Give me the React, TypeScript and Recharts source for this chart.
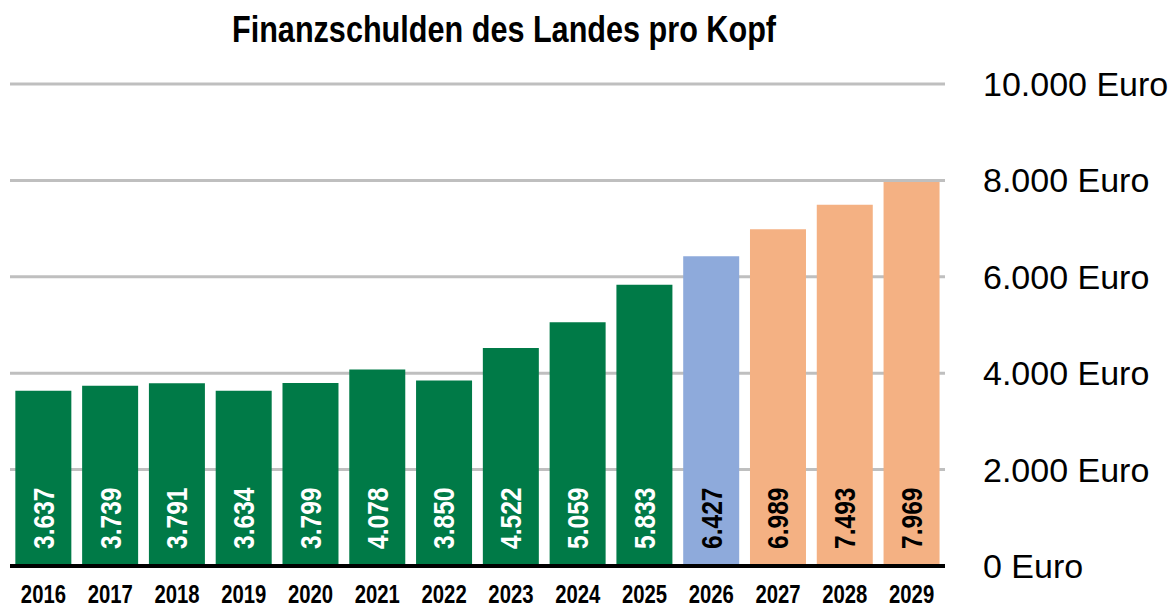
import { BarChart, Bar, XAxis, YAxis, CartesianGrid, Cell, LabelList } from 'recharts';

const years = ['2016', '2017', '2018', '2019', '2020', '2021', '2022', '2023', '2024', '2025', '2026', '2027', '2028', '2029'];
const debtPerCapita = [3637, 3739, 3791, 3634, 3799, 4078, 3850, 4522, 5059, 5833, 6427, 6989, 7493, 7969];
// 0 = Ist, 1 = Haushalt, 2 = Finanzplanung
const barKind = [0, 0, 0, 0, 0, 0, 0, 0, 0, 0, 1, 2, 2, 2];
const yTicks = [0, 2000, 4000, 6000, 8000, 10000];

const kindColors = ['#007A47', '#8EAADB', '#F4B183'];
const labelColors = ['#FFFFFF', '#000000', '#000000'];
const FONT = '"Liberation Sans", Arial, sans-serif';

const chartData = years.map((year, i) => ({ year, value: debtPerCapita[i], kind: barKind[i] }));

const fmt = (v: number) => v.toLocaleString('de-DE');

// rotated value inside the bar, condensed like Arial Narrow
const ValueLabel = (props: any) => {
  const { x, y, width, height, value, index } = props;
  const cx = x + width / 2;
  const bottom = y + height - 17;
  return (
    <text
      x={0}
      y={0}
      transform={`translate(${cx} ${bottom}) rotate(-90) scale(0.82 1)`}
      textAnchor="start"
      dominantBaseline="central"
      fill={labelColors[chartData[index].kind]}
      fontFamily={FONT}
      fontWeight="bold"
      fontSize={30}
    >
      {fmt(value)}
    </text>
  );
};

const YearTick = (props: any) => {
  const { x, payload } = props;
  return (
    <text
      x={0}
      y={0}
      transform={`translate(${x} 603) scale(0.78 1)`}
      textAnchor="middle"
      fill="#000"
      fontFamily={FONT}
      fontWeight="bold"
      fontSize={26}
    >
      {payload.value}
    </text>
  );
};

export default function App() {
  return (
    <div style={{ position: 'absolute', left: 0, top: 0, width: 1175, height: 610, background: '#fff' }}>
      <div
        style={{
          position: 'absolute',
          left: 0,
          top: 9,
          width: 1008,
          textAlign: 'center',
          fontFamily: FONT,
          fontWeight: 'bold',
          fontSize: 36,
          color: '#000',
          whiteSpace: 'nowrap',
          transform: 'scaleX(0.85)',
        }}
      >
        Finanzschulden des Landes pro Kopf
      </div>
      <BarChart
        width={1175}
        height={610}
        data={chartData}
        margin={{ top: 84, right: 0, left: 10, bottom: 0 }}
        barCategoryGap="8%"
      >
        <CartesianGrid horizontal vertical={false} stroke="#BFBFBF" strokeWidth={3} />
        <XAxis
          dataKey="year"
          height={44}
          tickLine={false}
          axisLine={{ stroke: '#000', strokeWidth: 4 }}
          tick={<YearTick />}
          interval={0}
        />
        <YAxis
          orientation="right"
          width={230}
          domain={[0, 10000]}
          ticks={yTicks}
          axisLine={false}
          tickLine={false}
          tickMargin={32}
          tickFormatter={(v: number) => `${fmt(v)} Euro`}
          tick={{ fill: '#000', fontFamily: FONT, fontSize: 34, textAnchor: 'start' }}
        />
        <Bar dataKey="value" isAnimationActive={false}>
          {chartData.map((d) => (
            <Cell key={d.year} fill={kindColors[d.kind]} />
          ))}
          <LabelList dataKey="value" content={ValueLabel} />
        </Bar>
      </BarChart>
    </div>
  );
}
